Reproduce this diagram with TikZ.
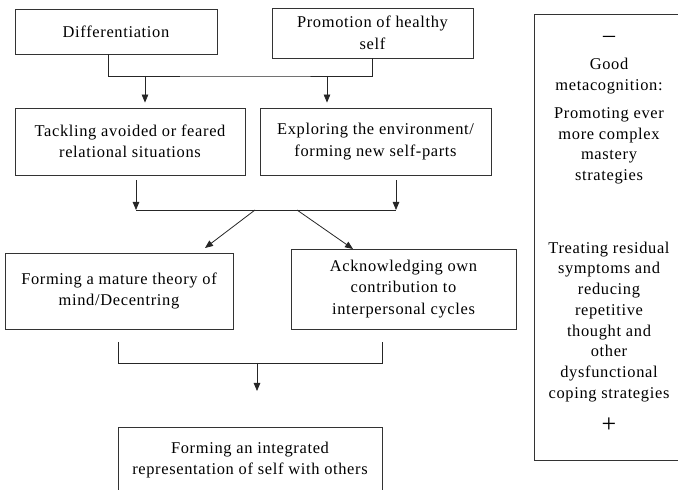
\documentclass[tikz,border=0pt]{standalone}
\usepackage{fontspec}
\setmainfont{Liberation Serif}[LetterSpace=4]
\usetikzlibrary{arrows.meta}

\begin{document}
\begin{tikzpicture}[x=10bp,y=10bp,
  box/.style={draw=black!80,line width=0.8bp,align=center,inner sep=0pt,font=\fontsize{16.5}{21.5}\selectfont},
  txt/.style={align=center,inner sep=0pt,font=\fontsize{16.5}{20.8}\selectfont},
  arr/.style={draw=black!85,line width=0.8bp,-{Triangle[length=8bp,width=6.5bp]}},
  lin/.style={draw=black!85,line width=0.8bp}]

\useasboundingbox (0,0) rectangle (67.8,49);
\clip (0,0) rectangle (67.8,49);

\node[box,minimum width=202bp,minimum height=45bp] (diff) at (11.6,45.85) {Differentiation};
\node[box,minimum width=201bp,minimum height=50bp] (promo) at (37.25,45.7) {Promotion of healthy\\self};
\node[box,minimum width=230bp,minimum height=67bp] (tack) at (13.0,34.85) {Tackling avoided or feared\\relational situations};
\node[box,minimum width=231bp,minimum height=67bp] (expl) at (37.55,34.85) {Exploring the environment/\\forming new self-parts};
\node[box,minimum width=228bp,minimum height=76bp] (mind) at (11.9,19.9) {Forming a mature theory of\\mind/Decentring};
\node[box,minimum width=225bp,minimum height=80bp] (ackn) at (40.35,20.1) {Acknowledging own\\contribution to\\interpersonal cycles};
\node[box,minimum width=264bp,minimum height=66bp] (integ) at (25.0,3.0) {Forming an integrated\\representation of self with others};
\node[box,minimum width=150bp,minimum height=446bp] (meta) at (60.9,25.3) {};
\node[txt] (metatxt) at (60.9,25.55) {{\fontsize{24}{20.8}\selectfont--}\\[7bp]Good\\metacognition:\\[7bp]Promoting ever\\more complex\\mastery\\strategies\\[52bp]Treating residual\\symptoms and\\reducing\\repetitive\\thought and\\other\\dysfunctional\\coping strategies\\[14bp]{\fontsize{26}{20.8}\selectfont+}};

\coordinate (j1) at (25,41.4);
\coordinate (a1) at (14.5,41.4);
\coordinate (a2) at (32.7,41.4);
\coordinate (b1) at (13.6,28);
\coordinate (b2) at (39.6,28);
\coordinate (c1) at (25.5,28);
\coordinate (c2) at (29.7,28);
\coordinate (d1) at (20.5,24.2);
\coordinate (d2) at (35.3,24.1);
\coordinate (e0) at (11.8,14.8);
\coordinate (e1) at (11.8,12.7);
\coordinate (e2) at (38.2,12.7);
\coordinate (e3) at (38.2,14.8);
\coordinate (f1) at (25.7,12.7);
\coordinate (f2) at (25.7,9.9);

\draw[lin] ([xshift=-8bp]diff.south) |- (j1) -| (promo.south);
\draw[arr,shorten >=5bp] (a1) -- (a1 |- tack.north);
\draw[arr,shorten >=5bp] (a2) -- (a2 |- expl.north);
\draw[arr,shorten <=5bp] (b1 |- tack.south) -- (b1);
\draw[arr,shorten <=5bp] (b2 |- expl.south) -- (b2);
\draw[lin] (b1) -- (b2);
\draw[arr] (c1) -- (d1);
\draw[arr] (c2) -- (d2);
\draw[lin] (e0) -- (e1) -- (e2) -- (e3);
\draw[arr] (f1) -- (f2);

\end{tikzpicture}
\end{document}
